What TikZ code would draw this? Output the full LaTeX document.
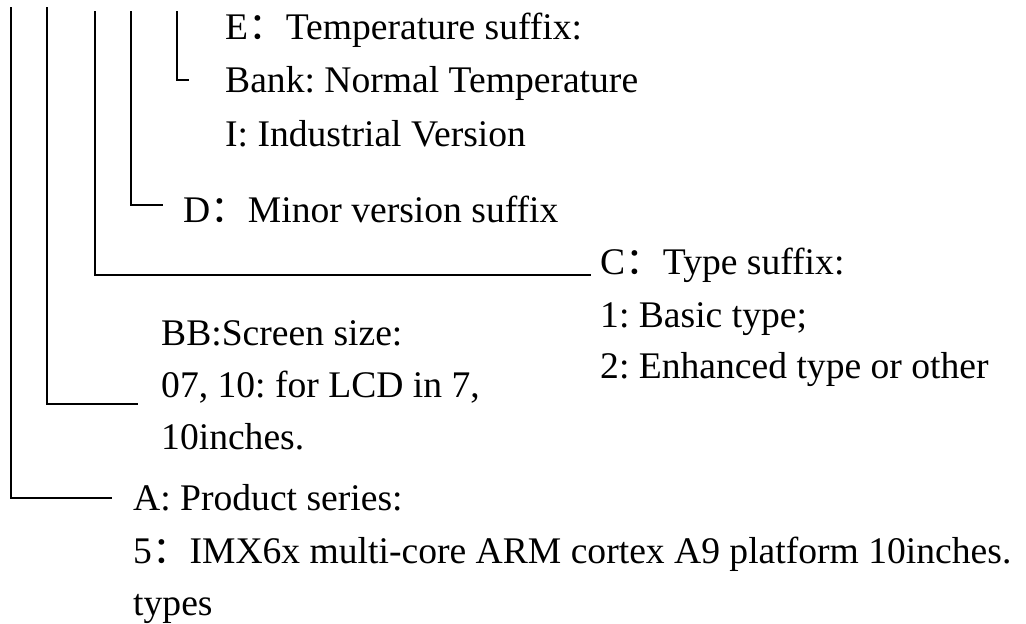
\documentclass[tikz,border=0pt]{standalone}
\usepackage{fontspec}
\setmainfont{Liberation Serif}
\newfontfamily\cjk{Noto Sans CJK SC}
\newcommand{\fcolon}{{\cjk ：}}
\frenchspacing
\begin{document}
\frenchspacing
\begin{tikzpicture}[x=1pt,y=-1pt,
  txt/.style={anchor=base west, inner sep=0pt, font=\fontsize{37.6pt}{45pt}\selectfont\frenchspacing},
  leader/.style={draw=black, line width=2pt}]
\useasboundingbox (0,0) rectangle (1026,624);
% texts
\node[txt] (E1) at (225,39) {E\fcolon Temperature suffix:};
\node[txt] (E2) at (225,92) {Bank: Normal Temperature};
\node[txt] (E3) at (225,146) {I: Industrial Version};
\node[txt] (D1) at (183,222) {D\fcolon Minor version suffix};
\node[txt] (C1) at (600,274) {C\fcolon Type suffix:};
\node[txt] (C2) at (600,327) {1: Basic type;};
\node[txt] (C3) at (600,378) {2: Enhanced type or other};
\node[txt] (B1) at (161,345) {BB:Screen size:};
\node[txt] (B2) at (161,397) {07, 10: for LCD in 7,};
\node[txt] (B3) at (161,449) {10inches.};
\node[txt] (A1) at (133,510) {A: Product series:};
\node[txt] (A2) at (133,563) {5\fcolon IMX6x multi-core ARM cortex A9 platform 10inches.};
\node[txt] (A3) at (133,615) {types};
% leader tops and ends
\coordinate (tA) at (10.7,7);   \coordinate (eA) at (112,498);
\coordinate (tB) at (46.7,7);   \coordinate (eB) at (137.7,404);
\coordinate (tC) at (95,11);    \coordinate (eC) at (590.7,275);
\coordinate (tD) at (130.7,11); \coordinate (eD) at (163,205);
\coordinate (tE) at (176.7,11); \coordinate (eE) at (189,80);
\draw[leader] (tA) |- (eA);
\draw[leader] (tB) |- (eB);
\draw[leader] (tC) |- (eC);
\draw[leader] (tD) |- (eD);
\draw[leader] (tE) |- (eE);
\end{tikzpicture}
\end{document}
